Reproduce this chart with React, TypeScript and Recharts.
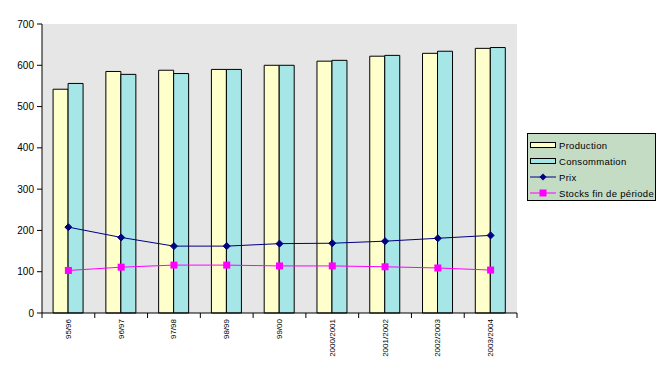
import React from 'react';
import {
  ComposedChart,
  Bar,
  Line,
  XAxis,
  YAxis,
  CartesianGrid,
} from 'recharts';

// Campagnes
const campagnes = ['95/96', '96/97', '97/98', '98/99', '99/00', '2000/2001', '2001/2002', '2002/2003', '2003/2004'];
const production = [542, 585, 588, 590, 600, 610, 622, 629, 641];
const consommation = [556, 578, 580, 590, 600, 612, 624, 634, 643];
const prix = [208, 183, 162, 162, 168, 169, 174, 181, 188];
const stocks = [103, 111, 116, 116, 114, 114, 112, 109, 104];
const yTicks = [0, 100, 200, 300, 400, 500, 600, 700];

const W = 670;
const H = 376;
const PLOT_LEFT = 42;
const PLOT_RIGHT = 517;
const BAND = (PLOT_RIGHT - PLOT_LEFT) / campagnes.length;

const COLORS = {
  production: '#ffffcc',
  consommation: '#a6e6e6',
  prix: '#000080',
  stocks: '#ff00ff',
  plot: '#e6e6e6',
  legend: '#c4dcc4',
};

const FONT = 'Arial, "Liberation Sans", sans-serif';

const data = campagnes.map((c, i) => ({
  name: c,
  production: production[i],
  consommation: consommation[i],
  prix: prix[i],
  stocks: stocks[i],
}));

function CampagneTick({ x, y, payload, index }: any) {
  const last = index === campagnes.length - 1;
  return (
    <g>
      <line x1={x - BAND / 2} y1={y} x2={x - BAND / 2} y2={y + 5} stroke="#000" />
      {last && <line x1={x + BAND / 2} y1={y} x2={x + BAND / 2} y2={y + 5} stroke="#000" />}
      <text
        x={x}
        y={y + 6}
        transform={`rotate(-90, ${x}, ${y + 6})`}
        textAnchor="end"
        dominantBaseline="central"
        fontSize={8}
        fontFamily={FONT}
        fill="#000"
      >
        {payload.value}
      </text>
    </g>
  );
}

function Diamond({ cx, cy }: any) {
  if (cx == null || cy == null) return null;
  const r = 3.5;
  return <path d={`M${cx},${cy - r}L${cx + r},${cy}L${cx},${cy + r}L${cx - r},${cy}Z`} fill={COLORS.prix} stroke={COLORS.prix} />;
}

function Square({ cx, cy }: any) {
  if (cx == null || cy == null) return null;
  return <rect x={cx - 3.5} y={cy - 3.5} width={7} height={7} fill={COLORS.stocks} />;
}

const legendItems = [
  { label: 'Production', kind: 'bar', color: COLORS.production },
  { label: 'Consommation', kind: 'bar', color: COLORS.consommation },
  { label: 'Prix', kind: 'diamond', color: COLORS.prix },
  { label: 'Stocks fin de période', kind: 'square', color: COLORS.stocks },
];

function ChartLegend() {
  return (
    <div
      style={{
        position: 'absolute',
        left: 527,
        top: 133,
        width: 129,
        height: 68,
        boxSizing: 'border-box',
        background: COLORS.legend,
        border: '1px solid #000',
        fontFamily: FONT,
        fontSize: 9.5,
        paddingTop: 3,
      }}
    >
      {legendItems.map(item => (
        <div key={item.label} style={{ display: 'flex', alignItems: 'center', height: 16 }}>
          <svg width={30} height={10} style={{ marginLeft: 1, flex: 'none' }}>
            {item.kind === 'bar' && (
              <rect x={1.5} y={2.5} width={25} height={5} fill={item.color} stroke="#000" />
            )}
            {item.kind !== 'bar' && <line x1={1} y1={5} x2={27} y2={5} stroke={item.color} />}
            {item.kind === 'diamond' && <path d="M14,1.5L17.5,5L14,8.5L10.5,5Z" fill={item.color} />}
            {item.kind === 'square' && <rect x={10.5} y={1.5} width={7} height={7} fill={item.color} />}
          </svg>
          <span style={{ whiteSpace: 'nowrap', letterSpacing: 0.3 }}>{item.label}</span>
        </div>
      ))}
    </div>
  );
}

export default function App() {
  return (
    <div style={{ position: 'absolute', left: 0, top: 0, width: W, height: H, background: '#fff' }}>
      <ComposedChart
        width={W}
        height={H}
        data={data}
        margin={{ top: 24, right: W - PLOT_RIGHT, left: 0, bottom: 0 }}
        barGap={0}
        barCategoryGap="21%"
      >
        <CartesianGrid horizontal={false} vertical={false} fill={COLORS.plot} />
        <XAxis
          dataKey="name"
          height={63}
          interval={0}
          axisLine={{ stroke: '#000' }}
          tickLine={false}
          tickSize={0}
          tickMargin={0}
          tick={<CampagneTick />}
        />
        <XAxis xAxisId="top" orientation="top" dataKey="name" height={0} tick={false} tickLine={false} axisLine={{ stroke: '#808080' }} />
        <YAxis
          width={PLOT_LEFT}
          domain={[0, 700]}
          ticks={yTicks}
          interval={0}
          axisLine={{ stroke: '#000' }}
          tickLine={{ stroke: '#000' }}
          tickSize={5}
          tickMargin={3}
          tick={{ fontSize: 10, fontFamily: FONT, fill: '#000' }}
        />
        <YAxis yAxisId="right" orientation="right" width={0} domain={[0, 700]} tick={false} tickLine={false} axisLine={{ stroke: '#808080' }} />
        <Bar dataKey="production" name="Production" fill={COLORS.production} stroke="#000" strokeWidth={1} isAnimationActive={false} />
        <Bar dataKey="consommation" name="Consommation" fill={COLORS.consommation} stroke="#000" strokeWidth={1} isAnimationActive={false} />
        <Line type="linear" dataKey="prix" name="Prix" stroke={COLORS.prix} strokeWidth={1} dot={<Diamond />} activeDot={false} isAnimationActive={false} />
        <Line type="linear" dataKey="stocks" name="Stocks fin de période" stroke={COLORS.stocks} strokeWidth={1} dot={<Square />} activeDot={false} isAnimationActive={false} />
      </ComposedChart>
      <ChartLegend />
    </div>
  );
}
